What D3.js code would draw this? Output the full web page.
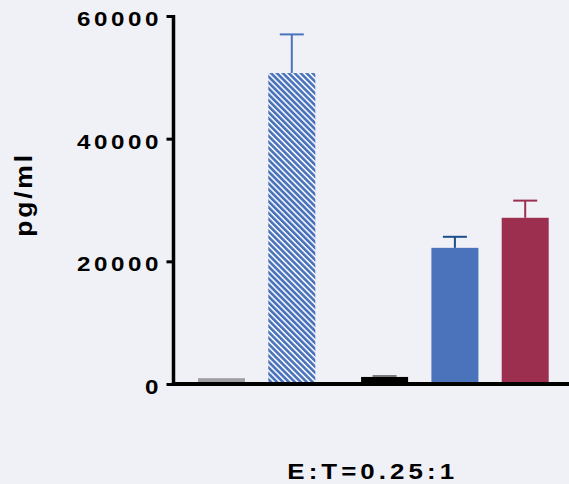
<!DOCTYPE html>
<html>
<head>
<meta charset="utf-8">
<script src="https://cdn.jsdelivr.net/npm/d3@7"></script>
<style>
  html, body { margin: 0; padding: 0; background: #f0f0f7; }
  svg { display: block; }
  text { font-family: "Liberation Sans", Arial, Helvetica, sans-serif; font-weight: bold; fill: #000; }
</style>
</head>
<body>
<svg id="chart" width="569" height="484"></svg>
<script>
// Cytokine release (pg/ml) per condition at E:T = 0.25:1
const conditions = ["ctrl", "ctrl-hatched", "neg", "blue", "red"];
const means = [950, 50700, 1150, 22200, 27100];
const errors = [0, 6300, 150, 1800, 2800];
const fills = ["#a0a0a4", "url(#hatch)", "#000000", "#4a73bc", "#9c2f4f"];
const errColors = ["#a0a0a4", "#4a73bc", "#7a7a7e", "#1a4f8a", "#9c2f4f"];
const yTicks = [0, 20000, 40000, 60000];
const xTitle = "E:T=0.25:1";
const yTitle = "pg/ml";

const STRETCH = 1.15; // wide, heavy lettering

const svg = d3.select("#chart");

// hatch pattern: white diagonal stripes on blue
const defs = svg.append("defs");
const pat = defs.append("pattern")
  .attr("id", "hatch")
  .attr("patternUnits", "userSpaceOnUse")
  .attr("width", 4.2).attr("height", 4.2)
  .attr("patternTransform", "rotate(45)");
pat.append("rect").attr("width", 4.2).attr("height", 4.2).attr("fill", "#4a73bc");
pat.append("rect").attr("x", 0).attr("y", 0).attr("width", 4.2).attr("height", 1.5).attr("fill", "#ffffff");

const y = d3.scaleLinear().domain([0, 60000]).range([384, 16]);

// slot index per bar: the last three bars form a second group after a short gap
const slot = conditions.map((d, i) => i + (i >= 2 ? 0.32 : 0));
const x = d3.scaleLinear().domain([0, 4.32]).range([221.5, 525.2]);
const barW = 47;
const capW = 24;

// bars
svg.append("g").selectAll("rect")
  .data(conditions)
  .join("rect")
  .attr("x", (d, i) => x(slot[i]) - barW / 2)
  .attr("y", (d, i) => y(means[i]))
  .attr("width", barW)
  .attr("height", (d, i) => y(0) - y(means[i]))
  .attr("fill", (d, i) => fills[i]);

// upper error bars
const eb = svg.append("g").selectAll("g")
  .data(d3.range(conditions.length).filter(i => errors[i] > 0))
  .join("g");
eb.append("line")
  .attr("x1", i => x(slot[i])).attr("x2", i => x(slot[i]))
  .attr("y1", i => y(means[i])).attr("y2", i => y(means[i] + errors[i]))
  .attr("stroke", i => errColors[i]).attr("stroke-width", 2);
eb.append("line")
  .attr("x1", i => x(slot[i]) - capW / 2).attr("x2", i => x(slot[i]) + capW / 2)
  .attr("y1", i => y(means[i] + errors[i])).attr("y2", i => y(means[i] + errors[i]))
  .attr("stroke", i => errColors[i]).attr("stroke-width", 2);

// y axis
const yAxis = d3.axisLeft(y).tickValues(yTicks).tickSize(7).tickFormat(d3.format("d"));
const gy = svg.append("g").attr("transform", "translate(173.5,0)").call(yAxis);
gy.select(".domain").attr("stroke", "#000").attr("stroke-width", 3.5)
  .attr("d", `M0,${y(60000) - 1}V${y(0) + 2}`);
gy.selectAll(".tick line").attr("stroke", "#000").attr("stroke-width", 3);
gy.selectAll(".tick text")
  .attr("x", 0).attr("dy", null).attr("y", 0)
  .attr("transform", `translate(-15.2,9.6) scale(${STRETCH},1)`)
  .attr("text-anchor", "end")
  .attr("font-size", 21).attr("font-weight", "bold")
  .attr("font-family", "'Liberation Sans', Arial, sans-serif")
  .attr("fill", "#000")
  .each(function () {
    const n = this.textContent.length;
    // spread digits to a fixed pitch per character
    d3.select(this).attr("textLength", (n * 16.7 - 2.2) / STRETCH).attr("lengthAdjust", "spacing");
  });

// x axis baseline
svg.append("line")
  .attr("x1", 172).attr("x2", 569)
  .attr("y1", y(0)).attr("y2", y(0))
  .attr("stroke", "#000").attr("stroke-width", 4);

// axis titles
svg.append("text")
  .attr("transform", `translate(287.3,478.5) scale(${STRETCH},1)`)
  .attr("text-anchor", "start")
  .attr("font-size", 22.5)
  .attr("textLength", 166.8 / STRETCH)
  .attr("lengthAdjust", "spacing")
  .text(xTitle);

svg.append("text")
  .attr("transform", `translate(31.5,236.7) rotate(-90) scale(${STRETCH},1)`)
  .attr("text-anchor", "start")
  .attr("font-size", 23)
  .attr("textLength", 81.7 / STRETCH)
  .attr("lengthAdjust", "spacing")
  .text(yTitle);
</script>
</body>
</html>
